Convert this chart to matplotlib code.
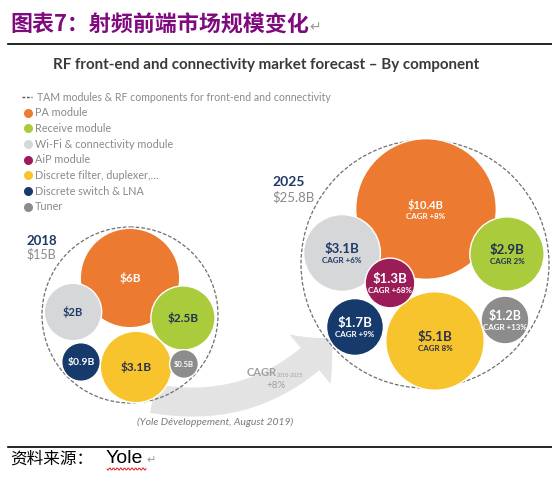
import matplotlib.pyplot as plt
import numpy as np
from matplotlib.patches import Circle, FancyArrowPatch, ArrowStyle

# ---- data ----
components = ["PA module", "Receive module", "Wi-Fi & connectivity module", "AiP module",
              "Discrete filter, duplexer,…", "Discrete switch & LNA", "Tuner"]
values_2018 = [6, 2.5, 2, 0, 3.1, 0.9, 0.5]          # $B, AiP absent in 2018
values_2025 = [10.4, 2.9, 3.1, 1.3, 5.1, 1.7, 1.2]    # $B
cagr_2025 = ["+8%", "2%", "+6%", "+68%", "8%", "+9%", "+13%"]
years = ["2018", "2025"]
totals = ["$15B", "$25.8B"]
total_cagr = "+8%"

# ---- styles / layout ----
colors = ["#EC7A31", "#AACB3B", "#D6D7D9", "#9C1C58", "#F8C42D", "#163A6B", "#8C8C8C"]
text_colors = ["white", "#1E3350", "#1F3A66", "white", "#2A3148", "white", "white"]
centers_2018 = [(130, 278), (183, 318), (73, 312), None, (136, 367), (81, 362), (184, 364)]
centers_2025 = [(426, 209), (507, 254), (342, 253), (390, 283), (435, 341), (355, 327), (505, 320)]
fs_2018 = [8.5, 8.5, 8, 0, 8.5, 7.5, 5.5]
fs_2025 = [8, 9.5, 9.5, 9.5, 9.5, 9.5, 9]
k_2018, k_2025 = 20.3, 21.8
draw_order = [0, 2, 1, 4, 5, 6, 3]

fig = plt.figure(figsize=(5.52, 4.86), dpi=100)
ax = fig.add_axes([0, 0, 1, 1])
ax.set_xlim(0, 552)
ax.set_ylim(486, 0)
ax.axis("off")

FONT = "Lato"
cjk = ["Noto Sans CJK SC", "DejaVu Sans"]

# header
ax.text(10, 25, "图表7：射频前端市场规模变化", family=cjk, fontsize=15.8, fontweight="bold",
        color="#7E0A7E", va="center", ha="left")
ax.text(309, 27, "↵", family=["DejaVu Sans"], fontsize=10, color="#999999", va="center")
ax.plot([8, 552], [44, 44], color="black", lw=1.2)
ax.text(266, 65, "RF front-end and connectivity market forecast – By component", family=FONT,
        fontsize=10.9, fontweight="bold", color="#3A3A3A", ha="center", va="center")

# legend
ly0, ldy = 97, 15.7
ax.plot([22, 32], [ly0, ly0], color="#555555", lw=1, ls=(0, (2, 1.2)))
ax.text(37, ly0, "TAM modules & RF components for front-end and connectivity", family=FONT,
        fontsize=7.6, color="#8A8A8A", va="center")
for i, name in enumerate(components):
    y = ly0 + ldy * (i + 1)
    ax.plot(28, y, "o", ms=6.5, color=colors[i], mec="none")
    ax.text(35, y, name, family=FONT, fontsize=7.8, color="#8A8A8A", va="center")

# arrow
arrow = FancyArrowPatch((150, 398), (334, 336), connectionstyle="arc3,rad=0.28",
                        arrowstyle=ArrowStyle.Simple(head_length=1.0, head_width=2.1, tail_width=0.95),
                        mutation_scale=22, color="#E3E3E3", lw=0, zorder=1)
ax.add_patch(arrow)
ax.text(247, 372, "CAGR", family=FONT, fontsize=8, fontweight="bold", color="#A0A0A0", va="center")
ax.text(277, 375, "2018-2025", family=FONT, fontsize=3.8, color="#A0A0A0", va="center")
ax.text(276, 385, total_cagr, family=FONT, fontsize=7, color="#A0A0A0", va="center", ha="center")


def bubbles(values, centers, k, fsizes, cagr=None):
    for i in draw_order:
        v = values[i]
        if not v or centers[i] is None:
            continue
        x, y = centers[i]
        r = k * np.sqrt(v)
        ax.add_patch(Circle((x, y), r, facecolor=colors[i], edgecolor="white", lw=1, zorder=3))
        lab = f"${v:g}B"
        if cagr is None:
            ax.text(x, y, lab, family=FONT, fontsize=fsizes[i], fontweight="bold",
                    color=text_colors[i], ha="center", va="center", zorder=4)
        else:
            ax.text(x, y - 4, lab, family=FONT, fontsize=fsizes[i], fontweight="bold",
                    color=text_colors[i], ha="center", va="center", zorder=4)
            ax.text(x, y + 7, "CAGR " + cagr[i], family=FONT, fontsize=5.8, fontweight="bold",
                    color=text_colors[i], ha="center", va="center", zorder=4)


# 2018 group
ax.add_patch(Circle((130, 315), 88, fill=False, edgecolor="#6F6F6F", lw=0.9, ls=(0, (3, 1.5)), zorder=2))
bubbles(values_2018, centers_2018, k_2018, fs_2018)
ax.text(26, 241, years[0], family=FONT, fontsize=9.5, fontweight="bold", color="#1F3864", va="center")
ax.text(26, 254, totals[0], family=FONT, fontsize=9, color="#8A8A8A", va="center")

# 2025 group
ax.add_patch(Circle((425, 264), 124, fill=False, edgecolor="#6F6F6F", lw=0.9, ls=(0, (3, 1.5)), zorder=2))
bubbles(values_2025, centers_2025, k_2025, fs_2025, cagr_2025)
ax.text(272, 182, years[1], family=FONT, fontsize=10, fontweight="bold", color="#1F3864", va="center")
ax.text(272, 197, totals[1], family=FONT, fontsize=9.5, color="#8A8A8A", va="center")

ax.text(215, 422, "(Yole Développement, August 2019)", family=FONT, fontsize=7.5, style="italic",
        color="#7A7A7A", ha="center", va="center")

# footer
ax.plot([8, 552], [447, 447], color="black", lw=1.2)
ax.text(10, 459, "资料来源：", family=cjk, fontsize=12, color="black", va="center")
ax.text(106, 458, "Yole", family=["Liberation Sans"], fontsize=14, color="black", va="center")
ax.text(146, 460, "↵", family=["DejaVu Sans"], fontsize=8, color="#999999", va="center")
wx = np.linspace(107, 146, 40)
ax.plot(wx, 469 + 1.2 * np.sin((wx - 107) * 1.7), color="#E02020", lw=0.7)

fig.savefig("out.png", dpi=100)
